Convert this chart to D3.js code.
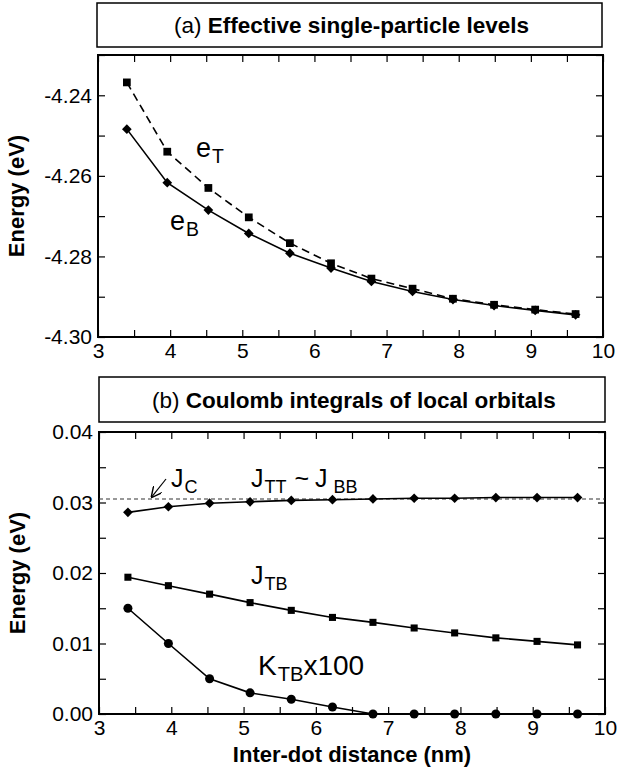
<!DOCTYPE html>
<html>
<head>
<meta charset="utf-8">
<script src="https://cdn.jsdelivr.net/npm/d3@7"></script>
<style>
  body { margin: 0; background: #fff; }
  svg { display: block; font-family: "Liberation Sans", Arial, sans-serif; }
</style>
</head>
<body>
<script>
// inter-dot distance (nm)
const distance = [3.40, 3.96, 4.53, 5.09, 5.66, 6.23, 6.79, 7.36, 7.92, 8.49, 9.06, 9.62];

// panel (a) effective single-particle levels (eV)
const eT = [-4.2368, -4.2540, -4.2630, -4.2703, -4.2767, -4.2817, -4.2855, -4.2880, -4.2905, -4.2920, -4.2932, -4.2943];
const eB = [-4.2484, -4.2617, -4.2685, -4.2743, -4.2792, -4.2829, -4.2862, -4.2887, -4.2907, -4.2922, -4.2934, -4.2945];

// panel (b) Coulomb integrals (eV)
const jTT = [0.0286, 0.0294, 0.0299, 0.0301, 0.0303, 0.0304, 0.0305, 0.0306, 0.0306, 0.0307, 0.0307, 0.0307];
const jTB = [0.0194, 0.0182, 0.0170, 0.0158, 0.0147, 0.0137, 0.0130, 0.0122, 0.0115, 0.0108, 0.0103, 0.0098];
const kTBx100 = [0.0150, 0.0100, 0.0050, 0.0030, 0.0021, 0.0010, 0.0000, 0.0000, 0.0000, 0.0000, 0.0000, 0.0000];
const jC = 0.0305;

const xTicks = [3, 4, 5, 6, 7, 8, 9, 10];
const yTicksA = [-4.30, -4.28, -4.26, -4.24];
const yTicksB = [0.00, 0.01, 0.02, 0.03, 0.04];

const W = 617, H = 774;
const svg = d3.select("body").append("svg").attr("width", W).attr("height", H);

const fmt = d3.format(".2f");
const label = d => fmt(d).replace("\u2212", "-");

// draws a framed panel with inward ticks on all four sides
function panel(box, yDomain, yMajor, yMinorStep, titleBox, titleA, titleB) {
  const x = d3.scaleLinear().domain([3, 10]).range([box.x0, box.x1]);
  const y = d3.scaleLinear().domain(yDomain).range([box.y1, box.y0]);

  //title box
  svg.append("rect")
    .attr("x", titleBox.x0).attr("y", titleBox.y0)
    .attr("width", titleBox.x1 - titleBox.x0).attr("height", titleBox.y1 - titleBox.y0)
    .attr("fill", "none").attr("stroke", "#000").attr("stroke-width", 1.5);
  const t = svg.append("text")
    .attr("x", (titleBox.x0 + titleBox.x1) / 2 + 2).attr("y", (titleBox.y0 + titleBox.y1) / 2 + 8)
    .attr("text-anchor", "middle").attr("font-size", 22.5);
  t.append("tspan").text(titleA + " ");
  t.append("tspan").attr("font-weight", "bold").text(titleB);

  const xMinor = d3.range(3, 10.001, 0.5);
  const yMinor = d3.range(yDomain[0], yDomain[1] + 1e-9, yMinorStep);

  const g = svg.append("g");
  g.append("g").attr("transform", `translate(0,${box.y1})`)
    .call(d3.axisBottom(x).tickValues(xMinor).tickSize(-7).tickPadding(6)
      .tickFormat(d => xTicks.includes(d) ? d : ""));
  g.append("g").attr("transform", `translate(0,${box.y0})`)
    .call(d3.axisTop(x).tickValues(xMinor).tickSize(-7).tickFormat(""));
  g.append("g").attr("transform", `translate(${box.x0},0)`)
    .call(d3.axisLeft(y).tickValues(yMinor).tickSize(-7).tickPadding(6)
      .tickFormat(d => yMajor.some(v => Math.abs(v - d) < 1e-9) ? label(d) : ""));
  g.append("g").attr("transform", `translate(${box.x1},0)`)
    .call(d3.axisRight(y).tickValues(yMinor).tickSize(-7).tickFormat(""));
  g.selectAll(".domain").remove();
  g.selectAll(".tick line").attr("stroke", "#000").attr("stroke-width", 1.2);
  g.selectAll(".tick text").attr("font-size", 21).attr("fill", "#000")
    .attr("font-family", "Liberation Sans, Arial, sans-serif");

  svg.append("rect")
    .attr("x", box.x0).attr("y", box.y0)
    .attr("width", box.x1 - box.x0).attr("height", box.y1 - box.y0)
    .attr("fill", "none").attr("stroke", "#000").attr("stroke-width", 2);

  svg.append("text")
    .attr("transform", `translate(${box.x0 - 74},${(box.y0 + box.y1) / 2}) rotate(-90)`)
    .attr("text-anchor", "middle").attr("font-size", 22).attr("font-weight", "bold")
    .text("Energy (eV)");

  return { x, y };
}

function series(sc, values, symbol, size, dash) {
  const pts = distance.map((d, i) => [d, values[i]]);
  const line = d3.line().x(d => sc.x(d[0])).y(d => sc.y(d[1]));
  svg.append("path").datum(pts).attr("d", line)
    .attr("fill", "none").attr("stroke", "#000").attr("stroke-width", 1.6)
    .attr("stroke-dasharray", dash || null);
  svg.append("g").selectAll("path").data(pts).join("path")
    .attr("transform", d => `translate(${sc.x(d[0])},${sc.y(d[1])})`)
    .attr("d", d3.symbol().type(symbol).size(size))
    .attr("fill", "#000");
}

function sublabel(x, y, main, sub, size, extra) {
  const t = svg.append("text").attr("x", x).attr("y", y).attr("font-size", size);
  t.append("tspan").text(main);
  t.append("tspan").attr("font-size", size * 0.72).attr("dy", 6).attr("dx", 1).text(sub);
  if (extra) t.append("tspan").attr("dy", -6).text(extra);
  return t;
}

// panel (a)
const a = panel({ x0: 98, x1: 603, y0: 55, y1: 337 }, [-4.30, -4.23], yTicksA, 0.01,
  { x0: 97, x1: 602, y0: 3, y1: 47 }, "(a)", "Effective single-particle levels");
series(a, eT, d3.symbolSquare, 60, "8,5");
series(a, eB, d3.symbolDiamond2, 60);
sublabel(196, 157, "e", "T", 27);
sublabel(170, 230, "e", "B", 27);

// panel (b)
const b = panel({ x0: 99, x1: 605, y0: 432, y1: 714 }, [0, 0.04], yTicksB, 0.005,
  { x0: 99, x1: 605, y0: 377, y1: 422 }, "(b)", "Coulomb integrals of local orbitals");

svg.append("line")
  .attr("x1", b.x(3)).attr("x2", b.x(10)).attr("y1", b.y(jC)).attr("y2", b.y(jC))
  .attr("stroke", "#333").attr("stroke-width", 1.1).attr("stroke-dasharray", "4,3");

series(b, jTT, d3.symbolDiamond2, 60);
series(b, jTB, d3.symbolSquare, 50);
series(b, kTBx100, d3.symbolCircle, 64);

sublabel(171, 487, "J", "C", 25);
const jt = sublabel(251, 487, "J", "TT", 25);
jt.append("tspan").attr("dy", -6).attr("dx", 8).text("~");
jt.append("tspan").attr("dx", 6).text("J");
jt.append("tspan").attr("font-size", 25 * 0.72).attr("dy", 6).attr("dx", 6).text("BB");
sublabel(251, 584, "J", "TB", 25);
sublabel(258, 675, "K", "TB", 28, "x100");

// arrow for J_C
svg.append("defs").append("marker").attr("id", "arr")
  .attr("viewBox", "0 0 10 10").attr("refX", 9).attr("refY", 5)
  .attr("markerWidth", 9).attr("markerHeight", 9).attr("orient", "auto")
  .append("path").attr("d", "M0,0 L10,5 L0,10").attr("fill", "none").attr("stroke", "#000").attr("stroke-width", 1.3);
svg.append("line")
  .attr("x1", 166).attr("y1", 479).attr("x2", b.x(3.73)).attr("y2", b.y(jC) - 2)
  .attr("stroke", "#000").attr("stroke-width", 1.2).attr("marker-end", "url(#arr)");

svg.append("text")
  .attr("x", (b.x(3) + b.x(10)) / 2).attr("y", 762)
  .attr("text-anchor", "middle").attr("font-size", 22).attr("font-weight", "bold")
  .text("Inter-dot distance (nm)");
</script>
</body>
</html>
